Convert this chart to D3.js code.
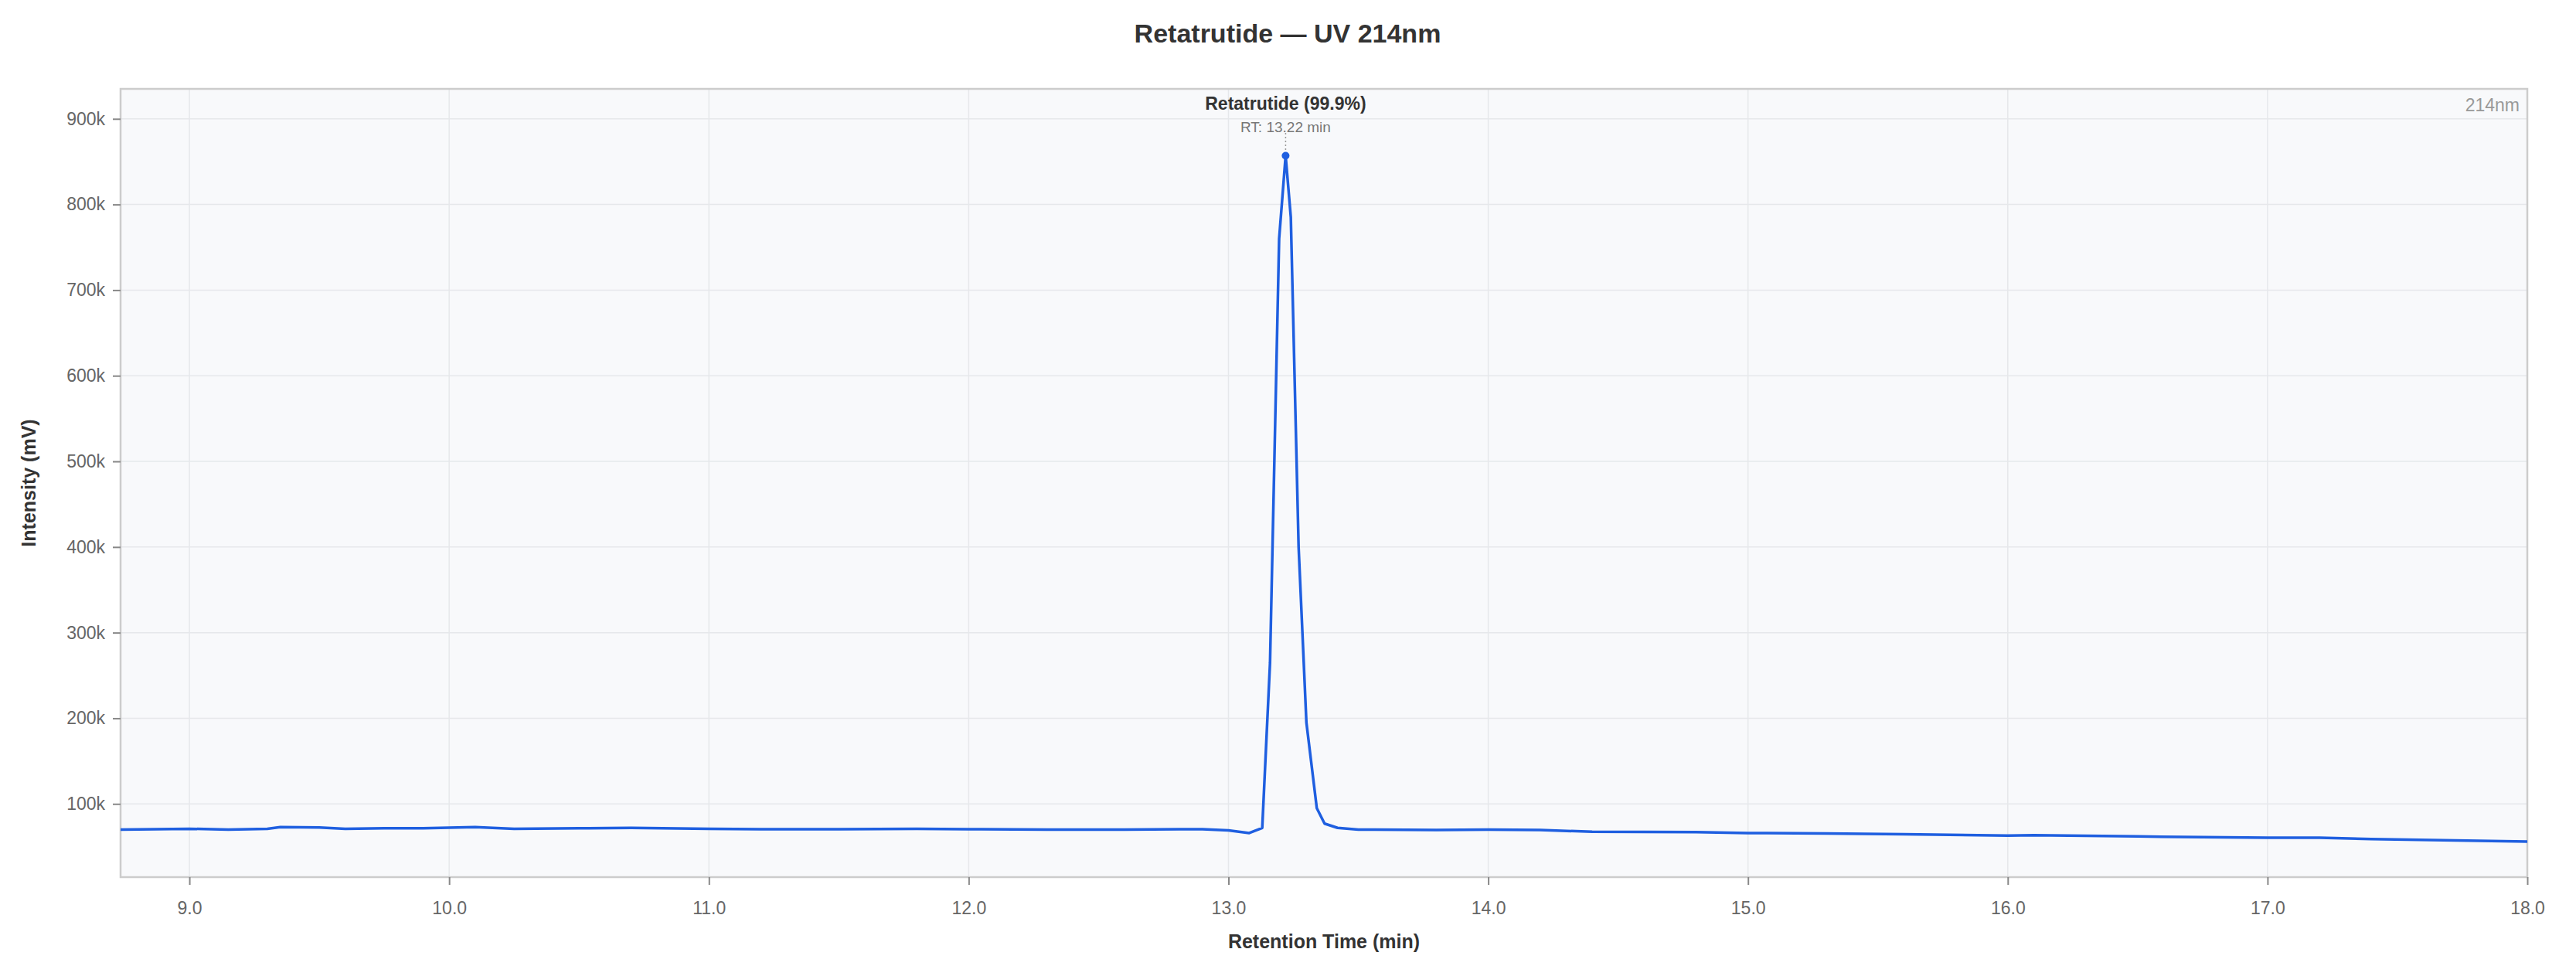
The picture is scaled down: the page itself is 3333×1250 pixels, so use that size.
<!DOCTYPE html>
<html><head><meta charset="utf-8">
<script src="https://cdn.jsdelivr.net/npm/d3@7"></script>
<style>body{margin:0;background:#fff;font-family:"Liberation Sans",Arial,sans-serif}</style>
</head><body><svg id="c" width="3333" height="1250"></svg>
<script>
const times = [8.735,9.0,9.15,9.3,9.35,9.5,9.6,9.75,9.9,10.1,10.25,10.5,10.7,11.0,11.2,11.5,11.8,12.0,12.3,12.6,12.9,13.0,13.08,13.13,13.16,13.195,13.22,13.24,13.27,13.30,13.34,13.37,13.42,13.5,13.8,14.0,14.2,14.4,14.8,15.0,15.3,15.6,16.0,16.1,16.5,17.0,17.2,17.4,18.0];
const intensity = [70000,71000,70000,71000,73000,72500,71000,71500,71500,73000,71000,71500,72000,71000,70500,70500,71000,70500,70000,70000,70500,69000,66000,72000,265000,760000,857000,785000,400000,195000,95000,77000,72000,70000,69500,70000,69500,67500,67000,66000,65500,64500,63000,63500,62000,60500,60500,59000,56000];
const xTicks = [9,10,11,12,13,14,15,16,17,18];
const yTicks = [100000,200000,300000,400000,500000,600000,700000,800000,900000];
const peakName = "Retatrutide (99.9%)", peakRT = 13.22, peakVal = 857000;

const svg = d3.select("#c");
const L=156,R=3270,T=115,B=1135;
const x = d3.scaleLinear().domain([8.735,18]).range([L,R]);
const y = d3.scaleLinear().domain([14500,935000]).range([B,T]);
svg.append("rect").attr("x",L).attr("y",T).attr("width",R-L).attr("height",B-T).attr("fill","#f8f9fb");
const g = svg.append("g");
g.selectAll(".vg").data(xTicks).join("line").attr("x1",d=>x(d)).attr("x2",d=>x(d)).attr("y1",T).attr("y2",B).attr("stroke","#e6e8eb").attr("stroke-width",1.5);
g.selectAll(".hg").data(yTicks).join("line").attr("x1",L).attr("x2",R).attr("y1",d=>y(d)).attr("y2",d=>y(d)).attr("stroke","#e6e8eb").attr("stroke-width",1.5);
svg.append("rect").attr("x",L).attr("y",T).attr("width",R-L).attr("height",B-T).attr("fill","none").attr("stroke","#ccc").attr("stroke-width",2.5);

const xa = svg.append("g").attr("transform",`translate(0,${B})`).call(d3.axisBottom(x).tickValues(xTicks).tickFormat(d3.format(".1f")).tickSize(10).tickSizeOuter(0));
const ya = svg.append("g").attr("transform",`translate(${L},0)`).call(d3.axisLeft(y).tickValues(yTicks).tickFormat(d=>d/1000+"k").tickSize(10).tickSizeOuter(0));
[xa,ya].forEach(a=>{a.select(".domain").remove();a.selectAll("line").attr("stroke","#888").attr("stroke-width",2);a.selectAll("text").attr("fill","#666").attr("font-size",23).attr("font-family","Liberation Sans, Arial");});
xa.selectAll("text").attr("dy","1.5em");
ya.selectAll("text").attr("dx","-0.3em");

svg.append("path").datum(times.map((t,i)=>[t,intensity[i]])).attr("fill","none").attr("stroke","#1f5fe0").attr("stroke-width",3.5).attr("stroke-linejoin","round")
  .attr("d",d3.line().x(d=>x(d[0])).y(d=>y(d[1])));
svg.append("line").attr("x1",x(peakRT)).attr("x2",x(peakRT)).attr("y1",172).attr("y2",y(peakVal)).attr("stroke","#999").attr("stroke-dasharray","2,3").attr("stroke-width",1.5);
svg.append("circle").attr("cx",x(peakRT)).attr("cy",y(peakVal)).attr("r",5).attr("fill","#1f5fe0");
svg.append("text").attr("x",x(peakRT)).attr("y",142).attr("text-anchor","middle").attr("font-size",23).attr("font-weight","bold").attr("fill","#333").text(peakName);
svg.append("text").attr("x",x(peakRT)).attr("y",171).attr("text-anchor","middle").attr("font-size",19).attr("fill","#777").text("RT: "+peakRT.toFixed(2)+" min");
svg.append("text").attr("x",R-10).attr("y",144).attr("text-anchor","end").attr("font-size",23).attr("fill","#999").text("214nm");
svg.append("text").attr("x",1666).attr("y",55).attr("text-anchor","middle").attr("font-size",34).attr("font-weight","bold").attr("fill","#333").text("Retatrutide — UV 214nm");
svg.append("text").attr("x",(L+R)/2).attr("y",1227).attr("text-anchor","middle").attr("font-size",25).attr("font-weight","bold").attr("fill","#333").text("Retention Time (min)");
svg.append("text").attr("transform",`translate(46,${(T+B)/2}) rotate(-90)`).attr("text-anchor","middle").attr("font-size",25).attr("font-weight","bold").attr("fill","#333").text("Intensity (mV)");
</script></body></html>
